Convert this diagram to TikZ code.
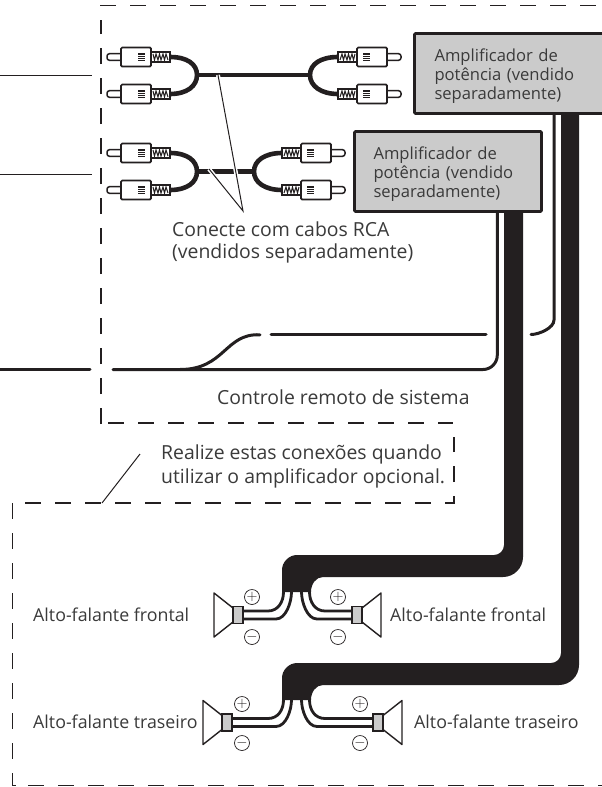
\documentclass[tikz,border=0pt]{standalone}
\usepackage{fontspec}
\setmainfont{Open Sans}
\usetikzlibrary{positioning,calc}
\definecolor{ink}{HTML}{231F20}
\definecolor{txt}{HTML}{3A3A3A}
\definecolor{ampgray}{HTML}{CBCBCB}
\tikzset{
  rcaplug/.pic={
    \draw[ink,line width=1.5pt,fill=white,rounded corners=2.5pt] (14,-3.3) -- (0,-3.3) -- (0,3.3) -- (14,3.3);
    \draw[ink,line width=1.7pt,fill=white,rounded corners=1.2pt] (14,-9.5) rectangle (44,9.5);
    \draw[ink,line width=1.7pt,fill=white] (44,-5) rectangle (63,5);
    \draw[ink,line width=1pt] (46,-3) -- (47.5,3) -- (49,-3) -- (51,3) -- (52.5,-3) -- (54,3) -- (56,-3) -- (57.5,3) -- (59,-3) -- (61,3);
    \fill[ink] (31,-4) rectangle (38,4);
    \foreach \ly in {-2,0,2} \draw[white,line width=.3pt] (31,\ly) -- (38,\ly);
    \coordinate (-tail) at (63,0);
  },
  speaker/.pic={
    \draw[ink,line width=1.4pt,fill=white,line join=round] (-10,-7) -- (-29,-22) -- (-29,22) -- (-10,7) -- cycle;
    \draw[ink,line width=1.5pt,fill=ampgray] (-10,-8.5) rectangle (0,8.5);
    \coordinate (-up) at (0,-4);
    \coordinate (-lo) at (0,4);
  }
}
\begin{document}
\begin{tikzpicture}[x=1pt,y=-1pt,line cap=butt,font=\fontsize{19.4}{22}\selectfont]
\tikzstyle{guide}=[ink,line width=1.2pt,dash pattern=on 16pt off 14pt]
  \tikzstyle{thinline}=[ink,line width=1pt]
  \tikzstyle{cable}=[ink,line width=4.6pt]
  \tikzstyle{ctlwire}=[ink,line width=3pt,line cap=round]
  \tikzstyle{leadwire}=[ink,line width=2.8pt]
  \tikzstyle{band}=[ink,fill=ink,draw=none]
  \tikzstyle{ampbox}=[draw=ink,fill=ampgray,line width=2.7pt,rounded corners=1pt,anchor=north west,outer sep=0pt,text height=27.5pt,text depth=52.5pt,align=left,text=txt,inner ysep=0pt,font=\fontsize{16.6}{19}\selectfont]
  \tikzstyle{label}=[anchor=base west,inner sep=0pt,text=txt]
  \tikzstyle{spklabel}=[label,font=\fontsize{17.8}{20}\selectfont]
  \tikzstyle{polarity}=[circle,draw=ink,line width=.7pt,minimum size=15pt,inner sep=0pt,text=ink,font=\Large]
\useasboundingbox (0,0) rectangle (602,787);
%
% dashed outlines
\draw[guide] (100,5.7) -- (602,5.7);
\draw[guide] (101,424) -- (101,20);
\draw[guide] (108,423) -- (453,423);
\draw[guide] (25,503) -- (454,503) -- (454,437);
\draw[guide] (12.5,503) -- (12.5,785.5) -- (16,785.5);
\draw[guide] (28,785.5) -- (602,785.5);
\coordinate (note0) at (102,503);
\coordinate (note1) at (140,454);
\draw[thinline] (note0) -- (note1);
%
% speaker bands
\fill[band] (504,200) -- (504,545) .. controls +(0,5.5) and +(5.5,0) .. (494,555) -- (297,555) .. controls +(-8,0) and +(0,-8) .. (282,570) -- (282,592) -- (311,592) .. controls +(0,-8) and +(-7,0) .. (323,577) -- (503,577) .. controls +(11,0) and +(0,11) .. (523,557) -- (523,200) -- cycle;
\fill[band] (561,100) -- (561,653) .. controls +(0,5.5) and +(5.5,0) .. (551,663) -- (297,663) .. controls +(-8,0) and +(0,-8) .. (282,678) -- (282,700) -- (311,700) .. controls +(0,-8) and +(-7,0) .. (323,685) -- (559,685) .. controls +(11,0) and +(0,11) .. (579,665) -- (579,100) -- cycle;
%
% remote wires
\coordinate (ctlA) at (554,110);
\coordinate (ctlB) at (497.3,205);
\draw[ctlwire] (ctlA) -- (554,320) .. controls +(0,8) and +(8,0) .. (531,334.5);
\draw[ctlwire] (ctlB) -- (497.3,355) .. controls +(0,8) and +(8,0) .. (483,369.5) -- (113,369.5);
\draw[ctlwire] (486,334.5) -- (271,334.5);
\draw[ctlwire] (260,334.8) .. controls (225,333) and (225,369.5) .. (180,369.5);
\coordinate (inC) at (0,369.5);
\coordinate (inCend) at (90,369.5);
\draw[ctlwire] (inC) -- (inCend);
\coordinate (inA) at (0,75);
\coordinate (inAend) at (92,75);
\coordinate (inB) at (0,174);
\coordinate (inBend) at (92,174);
\draw[thinline] (inA) -- (inAend);
\draw[thinline] (inB) -- (inBend);
%
% RCA cables
\coordinate (jA) at (197,75);
\coordinate (jB) at (310,75);
\coordinate (jC) at (197,171.5);
\coordinate (jD) at (254,171.5);
\pic (pa) at (107,57) {rcaplug};
\pic (pb) at (107,94) {rcaplug};
\pic[xscale=-1] (pc) at (401,57) {rcaplug};
\pic[xscale=-1] (pd) at (401,94) {rcaplug};
\pic (pe) at (107,153) {rcaplug};
\pic (pf) at (107,190) {rcaplug};
\pic[xscale=-1] (pg) at (345,153) {rcaplug};
\pic[xscale=-1] (ph) at (345,190) {rcaplug};
\draw[cable] (pa-tail) .. controls +(17,0) and +(0,-11) .. (jA) .. controls +(0,11) and +(17,0) .. (pb-tail);
\draw[cable] (pc-tail) .. controls +(-17,0) and +(0,-11) .. (jB) .. controls +(0,11) and +(-17,0) .. (pd-tail);
\draw[cable] (pe-tail) .. controls +(17,0) and +(0,-11) .. (jC) .. controls +(0,11) and +(17,0) .. (pf-tail);
\draw[cable] (pg-tail) .. controls +(-17,0) and +(0,-11) .. (jD) .. controls +(0,11) and +(-17,0) .. (ph-tail);
\draw[cable] (jA) -- (jB);
\draw[cable] (jC) -- (jD);
%
% leaders to the note
\coordinate (tipL) at (243,211);
\coordinate (fromA) at (218,75);
\coordinate (fromB) at (209,169);
\draw[white,line width=4pt] (fromA) -- (tipL);
\draw[white,line width=4pt] (fromB) -- (tipL);
\draw[thinline] (fromA) -- (tipL) -- (fromB);
%
% amplifiers
\node[ampbox,text width=160pt,inner xsep=20pt] (ampA) at (414.5,33.5) {Amplificador de\\potência (vendido\\separadamente)};
\node[ampbox,text width=149pt,inner xsep=19pt] (ampB) at (354.5,131.5) {Amplificador de\\potência (vendido\\separadamente)};
%
% speakers
\pic (sa) at (243,615) {speaker};
\pic[xscale=-1] (sb) at (352,615) {speaker};
\pic (sc) at (232,722.5) {speaker};
\pic[xscale=-1] (sd) at (373,722.5) {speaker};
\coordinate (bA1) at (283.5,592);
\coordinate (bA2) at (291.5,592);
\coordinate (bA3) at (301.5,592);
\coordinate (bA4) at (309.5,592);
\coordinate (bB1) at (283.5,700);
\coordinate (bB2) at (291.5,700);
\coordinate (bB3) at (301.5,700);
\coordinate (bB4) at (309.5,700);
\draw[leadwire] (sa-up) -- (268,611) .. controls +(10,0) and +(0,10) .. (bA1);
\draw[leadwire] (sa-lo) -- (276,619) .. controls +(10,0) and +(0,10) .. (bA2);
\draw[leadwire] (sb-lo) -- (317,619) .. controls +(-10,0) and +(0,10) .. (bA3);
\draw[leadwire] (sb-up) -- (325,611) .. controls +(-10,0) and +(0,10) .. (bA4);
\draw[leadwire] (sc-up) -- (268,718.5) .. controls +(10,0) and +(0,10) .. (bB1);
\draw[leadwire] (sc-lo) -- (276,726.5) .. controls +(10,0) and +(0,10) .. (bB2);
\draw[leadwire] (sd-lo) -- (317,726.5) .. controls +(-10,0) and +(0,10) .. (bB3);
\draw[leadwire] (sd-up) -- (325,718.5) .. controls +(-10,0) and +(0,10) .. (bB4);
\node[polarity] (plusA) at (252,597) {$+$};
\node[polarity] (minusA) at (252,637) {$-$};
\node[polarity] (plusB) at (338,597) {$+$};
\node[polarity] (minusB) at (338,637) {$-$};
\node[polarity] (plusC) at (242,704) {$+$};
\node[polarity] (minusC) at (242,743) {$-$};
\node[polarity] (plusD) at (360,704) {$+$};
\node[polarity] (minusD) at (360,743) {$-$};
%
% labels
\node[label] (rcaA) at (172,236) {Conecte com cabos RCA};
\node[label] (rcaB) at (172,258) {(vendidos separadamente)};
\node[label] (remote) at (217,404) {Controle remoto de sistema};
\node[label] (noteA) at (161,459) {Realize estas conexões quando};
\node[label] (noteB) at (161,483) {utilizar o amplificador opcional.};
\node[spklabel] (frontL) at (33,621) {Alto-falante frontal};
\node[spklabel] (frontR) at (390,621) {Alto-falante frontal};
\node[spklabel] (rearL) at (33,728) {Alto-falante traseiro};
\node[spklabel] (rearR) at (414,728) {Alto-falante traseiro};
\end{tikzpicture}
\end{document}
